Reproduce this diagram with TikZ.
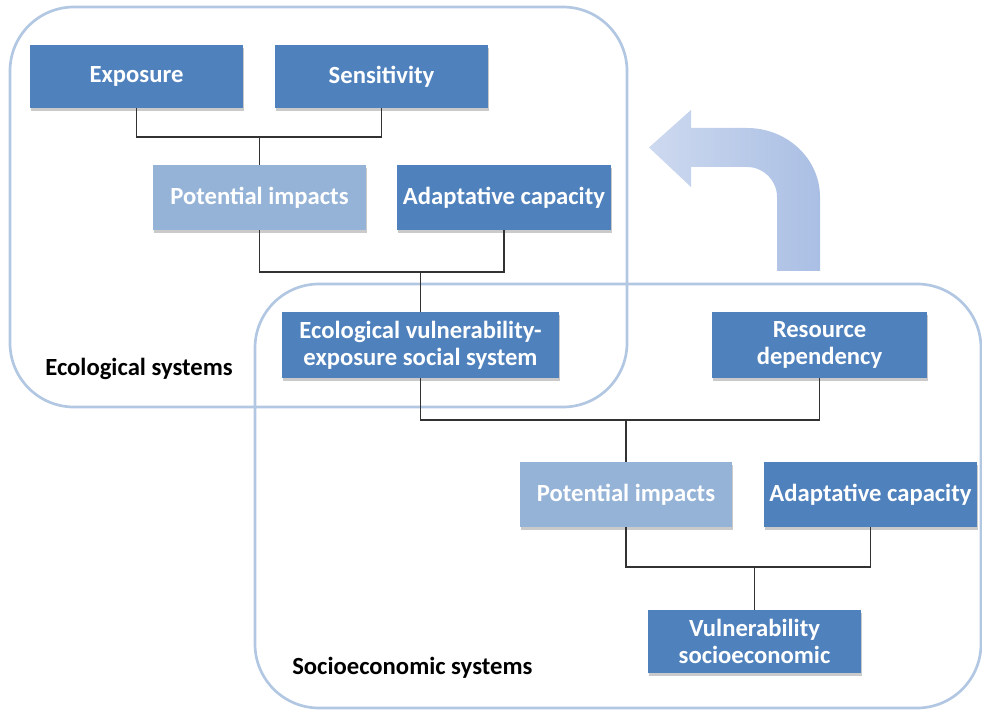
\documentclass[tikz,border=0pt]{standalone}
\usepackage{fontspec}
\setmainfont{Carlito}
\usetikzlibrary{shadows}
\definecolor{boxdark}{RGB}{79,129,189}
\definecolor{boxlight}{RGB}{149,179,215}
\definecolor{grpline}{RGB}{178,199,226}
\definecolor{linkgray}{RGB}{50,50,50}
\definecolor{arrowA}{RGB}{205,217,239}
\definecolor{arrowB}{RGB}{170,191,228}
\tikzset{
  box/.style={rectangle, fill=boxdark, text=white, font=\bfseries\fontsize{18.5}{20.5}\selectfont,
    align=center, inner sep=0pt,
    drop shadow={shadow xshift=1pt, shadow yshift=-2pt, opacity=0.35, fill=black!60}},
  lightbox/.style={box, fill=boxlight},
  grp/.style={draw=grpline, line width=2pt, rounded corners=48pt},
  link/.style={draw=linkgray, line width=1.2pt},
  grplabel/.style={anchor=west, font=\bfseries\fontsize{18.5}{20.5}\selectfont, text=black, inner sep=0pt}
}
\begin{document}
\begin{tikzpicture}[x=0.75pt,y=-0.75pt]
\useasboundingbox (0,0) rectangle (982,712);
% group frames
\draw[grp] (10,7) rectangle (627,407);
\draw[grp] (255,284) rectangle (981,708);
% U-turn arrow
\shade[left color=arrowA, right color=arrowB]
  (777,271) -- (777,197) .. controls (777,180.4) and (763.6,167) .. (747,167)
  -- (691,167) -- (691,187) -- (649,147.5) -- (691,110) -- (691,128) -- (747,128)
  .. controls (787.3,128) and (820,158.9) .. (820,197) -- (820,271) -- cycle;
% boxes
\node[box, minimum width=159.75pt, minimum height=47.25pt] (ex) at (136.5,76.5) {Exposure};
\node[box, minimum width=159.75pt, minimum height=47.25pt] (se) at (381.5,76.5) {Sensitivity};
\node[lightbox, minimum width=159.75pt, minimum height=48.75pt] (pi1) at (259.5,197.5) {Potential impacts};
\node[box, minimum width=160.5pt, minimum height=48.75pt] (ac1) at (504,197.5) {Adaptative capacity};
\node[box, minimum width=207.75pt, minimum height=49.5pt] (ev) at (420.5,345) {Ecological vulnerability-\\exposure social system};
\node[box, minimum width=161.25pt, minimum height=49.5pt] (rd) at (819.5,345) {Resource\\dependency};
\node[lightbox, minimum width=159pt, minimum height=48.75pt] (pi2) at (626,494.5) {Potential impacts};
\node[box, minimum width=159.75pt, minimum height=48.75pt] (ac2) at (870.5,494.5) {Adaptative capacity};
\node[box, minimum width=159.75pt, minimum height=47.25pt] (vs) at (754.5,641.5) {Vulnerability\\socioeconomic};
% junctions
\coordinate (j1) at (259.5,137);
\coordinate (j2) at (420.5,272);
\coordinate (j3) at (626,420);
\coordinate (j4) at (754.5,567);
% connectors
\draw[link] (ex.south) |- (j1) -| (se.south);
\draw[link] (j1) -- (pi1.north);
\draw[link] (pi1.south) |- (j2) -| (ac1.south);
\draw[link] (j2) -- (ev.north);
\draw[link] (ev.south) |- (j3) -| (rd.south);
\draw[link] (j3) -- (pi2.north);
\draw[link] (pi2.south) |- (j4) -| (ac2.south);
\draw[link] (j4) -- (vs.north);
% group labels
\node[grplabel] (eslab) at (45,369) {Ecological systems};
\node[grplabel] (sslab) at (292,668) {Socioeconomic systems};
\end{tikzpicture}
\end{document}
